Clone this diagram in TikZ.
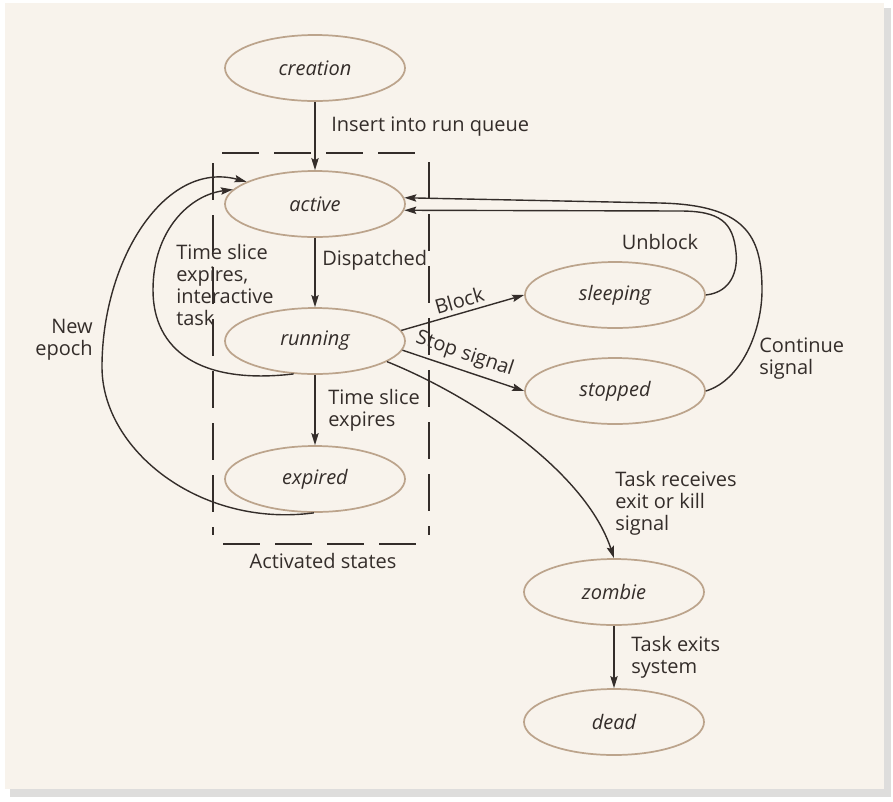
\documentclass[tikz,border=0pt]{standalone}
\usepackage{fontspec}
\setmainfont{Open Sans}
\usetikzlibrary{shapes.geometric,arrows.meta}
\definecolor{paper}{RGB}{248,243,236}
\definecolor{shadowc}{RGB}{200,198,196}
\definecolor{ink}{RGB}{52,45,42}
\definecolor{ovalc}{RGB}{188,164,140}
\tikzset{
  state/.style={ellipse, draw=ovalc, line width=1.3pt, fill=paper, minimum width=135pt, minimum height=49.5pt, inner sep=0pt, font=\fontsize{15}{16.5}\selectfont\itshape, text=ink},
  arr/.style={draw=ink, line width=1.05pt, -{Stealth[length=9pt,width=5.5pt,inset=1.5pt]}},
  lbl/.style={font=\fontsize{15}{16.5}\selectfont, text=ink, inner sep=0pt},
  boxline/.style={draw=ink, line width=1.4pt, dash pattern=on 28pt off 11pt},
}
\begin{document}
\begin{tikzpicture}[x=0.75pt,y=-0.75pt]
\useasboundingbox (0,0) rectangle (893,801);
\fill[white] (0,0) rectangle (893,801);
\fill[shadowc!60] (10,8) rectangle (891,797);
\fill[paper] (5,3) rectangle (884,789);

% dashed region
\draw[boxline] (222,153) -- (420,153);
\draw[boxline] (223,544) -- (420,544);
\draw[boxline] (213,163) -- (213,535);
\draw[boxline] (429,162) -- (429,535);

% states
\node[state] (creation) at (315,68) {creation};
\node[state] (active) at (315,204) {active};
\node[state] (running) at (315,341) {running};
\node[state] (expired) at (315,479) {expired};
\node[state] (sleeping) at (615,295) {sleeping};
\node[state] (stopped) at (615,391) {stopped};
\node[state] (zombie) at (614,592) {zombie};
\node[state] (dead) at (614,722) {dead};

% straight transitions
\draw[arr] (creation) -- (active);
\draw[arr] (active) -- (running);
\draw[arr] (running) -- (expired);
\draw[arr] (zombie) -- (dead);

\draw[arr] (running.7) -- node[sloped, above=3pt, lbl] {Block} (sleeping.west);
\draw[arr] (running.-6) -- node[sloped, above=4pt, pos=0.47, lbl] {Stop signal} (stopped.west);

% running -> zombie
\draw[arr] (running.-16) .. controls (470,395) and (585,470) .. (zombie.north);

% running -> active (interactive)
\draw[arr] (running.237) .. controls (200,385) and (153,350) .. (153,290)
  .. controls (153,230) and (190,195) .. (active.170);

% expired -> active (new epoch)
\draw[arr] (expired.268) .. controls (200,528) and (102,450) .. (102,367)
  .. controls (102,260) and (165,160) .. (active.162);

% sleeping -> active (unblock)
\draw[arr] (sleeping.east) .. controls (732,292) and (738,270) .. (736,252)
  .. controls (733,222) and (720,211) .. (680,211) -- (active.-4);

% stopped -> active (continue)
\draw[arr] (stopped.east) .. controls (742,380) and (762,330) .. (762,290)
  .. controls (762,235) and (745,205) .. (660,203) -- (active.4);

% labels
\node[lbl, anchor=west] (l1) at (331,127) {Insert into run queue};
\node[lbl, anchor=west] (l2) at (322,260) {Dispatched};
\node[lbl, anchor=north west, align=left] (l3) at (328,389) {Time slice\\expires};
\node[lbl, anchor=north west, align=left] (l4) at (176,244) {Time slice\\expires,\\interactive\\task};
\node[lbl, anchor=north east, align=right] (l5) at (93,319) {New\\epoch};
\node[lbl] (l6) at (660,242) {Unblock};
\node[lbl, anchor=north west, align=left] (l7) at (759,338) {Continue\\signal};
\node[lbl, anchor=north west, align=left] (l8) at (615,471) {Task receives\\exit or kill\\signal};
\node[lbl, anchor=north west, align=left] (l9) at (631,636) {Task exits\\system};
\node[lbl] (l10) at (323,561) {Activated states};
\end{tikzpicture}
\end{document}
